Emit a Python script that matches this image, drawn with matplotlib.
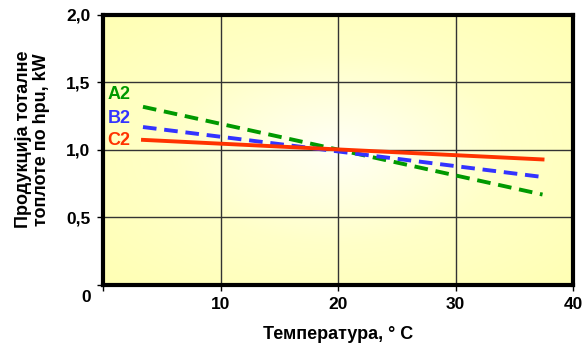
import numpy as np
import matplotlib.pyplot as plt
from matplotlib.colors import LinearSegmentedColormap

plt.rcParams['font.family'] = ['Liberation Sans', 'DejaVu Sans']
plt.rcParams['font.weight'] = 'bold'

# data
series_names = ['A2', 'B2', 'C2']
temp = [3.4, 37.4]
a2 = [1.32, 0.67]
b2 = [1.17, 0.80]
c2 = [1.075, 0.93]
colors = ['#009900', '#3333ff', '#ff3300']
styles = [(0, (3.5, 2)), (0, (3.5, 2)), '-']
label_y = [1.41, 1.23, 1.07]

fig = plt.figure(figsize=(5.83, 3.47), dpi=100)
ax = fig.add_axes([0.1767, 0.1787, 0.8063, 0.7781])

# radial yellow-white background
xx, yy = np.meshgrid(np.linspace(-1, 1, 300), np.linspace(-1, 1, 200))
rr = np.sqrt(xx**2 + yy**2) / np.sqrt(2)
cmap = LinearSegmentedColormap.from_list('bg', ['#fffff6', '#ffffc8', '#ffffb4'])
ax.imshow(rr, extent=[0, 40, 0, 2], aspect='auto', cmap=cmap, vmin=0, vmax=1,
          origin='lower', zorder=0, interpolation='bilinear')

ax.set_xlim(0, 40)
ax.set_ylim(0, 2)

for v in [10, 20, 30]:
    ax.axvline(v, color='#333333', lw=1, zorder=1)
for v in [0.5, 1.0, 1.5]:
    ax.axhline(v, color='#333333', lw=1, zorder=1)

for name, ys, c, ls, ly in zip(series_names, [a2, b2, c2], colors, styles, label_y):
    ax.plot(temp, ys, color=c, lw=2.8, linestyle=ls, zorder=3)
    ax.text(0.4, ly, name, color=c, fontsize=13, fontweight='bold', va='center', ha='left')

ax.set_xticks([0, 10, 20, 30, 40])
ax.set_xticklabels(['', '10', '20', '30', '40'])
ax.set_yticks([0, 0.5, 1.0, 1.5, 2.0])
ax.set_yticklabels(['', '0,5', '1,0', '1,5', '2,0'])
ax.tick_params(axis='both', labelsize=12.5, length=4, width=1, direction='out', pad=5)
for lbl in ax.get_xticklabels() + ax.get_yticklabels():
    lbl.set_fontweight('bold')
ax.text(-1.0, -0.09, '0', ha='right', va='center', fontsize=12.5, fontweight='bold')

for sp in ax.spines.values():
    sp.set_linewidth(3)
    sp.set_zorder(4)

ax.set_xlabel('Температура, ° C', fontsize=13, fontweight='bold', labelpad=10)
ax.set_ylabel('Продукција тоталне\nтоплоте по hpu, kW', fontsize=13, fontweight='bold',
              linespacing=1.1)
ax.yaxis.set_label_coords(-0.113, 0.54)

fig.savefig('out.png', dpi=100)
